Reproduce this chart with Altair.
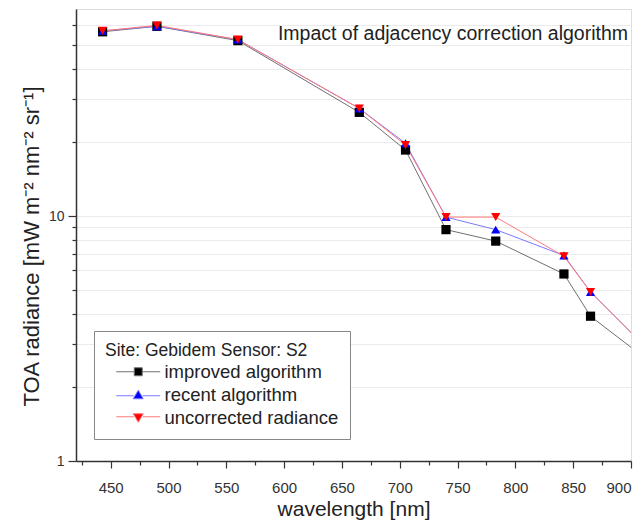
import altair as alt
import pandas as pd

wavelength = [443, 490, 560, 665, 705, 740, 783, 842, 865, 945]
improved = [56.5, 59.5, 52.0, 26.5, 18.6, 8.8, 7.9, 5.8, 3.9, 2.0]
recent = [57.0, 59.5, 52.5, 27.5, 19.8, 9.9, 8.8, 6.9, 4.9, 2.05]
uncorrected = [57.0, 60.0, 52.5, 27.5, 19.5, 9.9, 9.9, 6.85, 4.9, 2.05]

series_names = ["improved algorithm", "recent algorithm", "uncorrected radiance"]
series_values = [improved, recent, uncorrected]
marker_colors = ["black", "blue", "red"]
line_colors = ["#707070", "#7a7aff", "#ff7a7a"]
shapes = ["square", "triangle-up", "triangle-down"]
legend_shapes = [
    "M-4.4,0H-0.8M0.8,0H4.4M-0.8,-0.8H0.8V0.8H-0.8Z",
    "M-4.4,0.2H-0.9M0.9,0.2H4.4M0,-0.9L1,0.8H-1Z",
    "M-4.4,-0.2H-0.9M0.9,-0.2H4.4M0,0.9L1,-0.8H-1Z",
]

x_ticks = list(range(425, 901, 25))
y_ticks = [1, 2, 3, 4, 5, 6, 7, 8, 9, 10, 20, 30, 40, 50, 60]

rows = []
for name, vals in zip(series_names, series_values):
    for w, v in zip(wavelength, vals):
        rows.append({"wavelength": w, "radiance": v, "series": name})
df = pd.DataFrame(rows)

FONT = "Liberation Sans"

x_enc = alt.X(
    "wavelength:Q",
    scale=alt.Scale(domain=[420, 900], nice=False, zero=False),
    axis=alt.Axis(
        values=x_ticks,
        labelExpr="datum.value % 50 == 0 ? datum.label : ''",
        tickSize={"condition": {"test": "datum.value % 50 == 0", "value": 7}, "value": 4},
        title="wavelength [nm]",
        titleFont=FONT, titleFontSize=21, titleFontWeight="normal", titleColor="#222",
        titlePadding=3,
        labelFont=FONT, labelFontSize=15, labelColor="#333", labelPadding=12,
        grid=False, domainColor="#333", domainWidth=1.5, tickColor="#333",
        tickWidth=1.2, labelFlush=True,
    ),
)
y_enc = alt.Y(
    "radiance:Q",
    scale=alt.Scale(type="log", domain=[1, 70], nice=False),
    axis=alt.Axis(
        values=y_ticks,
        labelExpr="(datum.value == 1 || datum.value == 10) ? datum.label : ''",
        tickSize={"condition": {"test": "datum.value == 1 || datum.value == 10", "value": 8}, "value": 4},
        title="TOA radiance [mW m\u207b\u00b2 nm\u207b\u00b2 sr\u207b\u00b9]",
        titleFont=FONT, titleFontSize=22, titleFontWeight="normal", titleColor="#222",
        titlePadding=5, titleY=237,
        labelFont=FONT, labelFontSize=14, labelColor="#333", labelPadding=4,
        grid=True, gridColor="#ebebeb", gridWidth=1,
        domainColor="#333", domainWidth=1.5, tickColor="#333", tickWidth=1.2,
    ),
)

legend = alt.Legend(
    orient="none", legendX=18, legendY=322,
    title="Site: Gebidem Sensor: S2",
    titleFont=FONT, titleFontSize=17.5, titleFontWeight="normal", titleColor="#222",
    titlePadding=3, titleLimit=400,
    labelFont=FONT, labelFontSize=18.5, labelColor="#222", labelLimit=400,
    strokeColor="#888", fillColor="white", padding=11,
    symbolSize=100, symbolOffset=24, labelOffset=17, symbolStrokeWidth=1,
    symbolOpacity=1, rowPadding=4,
)

lines = alt.Chart(df).mark_line(strokeWidth=1, clip=True).encode(
    x=x_enc, y=y_enc,
    stroke=alt.Stroke("series:N", scale=alt.Scale(domain=series_names, range=line_colors), legend=None),
    detail="series:N",
)

points = alt.Chart(df).mark_point(filled=True, size=85, opacity=1, clip=True).encode(
    x=x_enc, y=y_enc,
    fill=alt.Fill("series:N", scale=alt.Scale(domain=series_names, range=marker_colors), legend=None),
    shape=alt.Shape("series:N", scale=alt.Scale(domain=series_names, range=shapes), legend=None),
)

legend_layer = alt.Chart(df).transform_filter("datum.wavelength > 900").mark_point(
    filled=True, size=100, opacity=1, clip=True, strokeWidth=1
).encode(
    x=x_enc, y=y_enc,
    fill=alt.Fill("series:N", scale=alt.Scale(domain=series_names, range=marker_colors), legend=legend),
    stroke=alt.Stroke("series:N", scale=alt.Scale(domain=series_names, range=line_colors), legend=legend),
    shape=alt.Shape("series:N", scale=alt.Scale(domain=series_names, range=legend_shapes), legend=legend),
)

title_text = alt.Chart(pd.DataFrame({"t": ["Impact of adjacency correction algorithm"]})).mark_text(
    align="right", baseline="middle", font=FONT, fontSize=19.5, color="#222"
).encode(text="t:N", x=alt.value(552), y=alt.value(25))

chart = alt.layer(lines, points, legend_layer, title_text).resolve_scale(
    shape="independent", fill="independent", stroke="independent"
).properties(
    width=555, height=452,
    autosize=alt.AutoSizeParams(type="none"),
    padding={"left": 68, "top": 1, "right": 2, "bottom": 61},
).configure_view(stroke="#888", strokeWidth=1.5).configure(background="white")

chart.save("out.html", embed_options={"renderer": "svg", "actions": False})
